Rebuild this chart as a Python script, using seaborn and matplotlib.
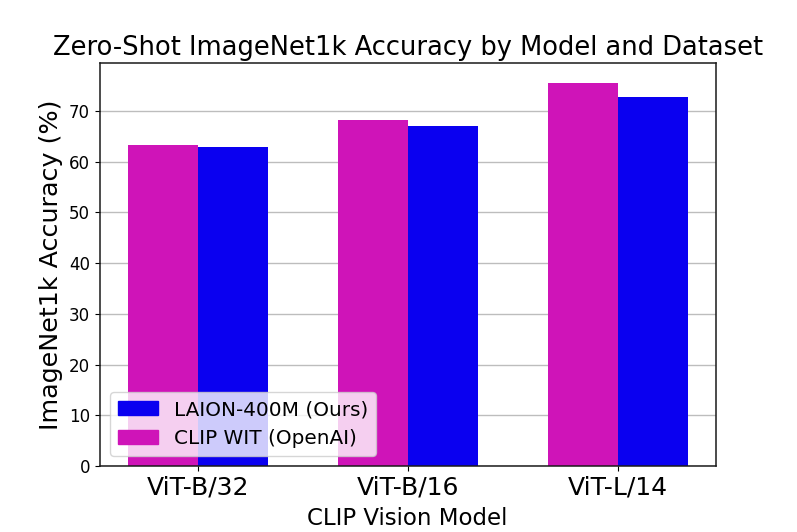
import numpy as np
import pandas as pd
import matplotlib
matplotlib.use("Agg")
import matplotlib.pyplot as plt
import seaborn as sns
from matplotlib.patches import Patch

# values
models = ["ViT-B/32", "ViT-B/16", "ViT-L/14"]
clip_wit = [63.3, 68.3, 75.5]
laion = [62.9, 67.0, 72.8]

CLIP_NAME = "CLIP WIT (OpenAI)"
LAION_NAME = "LAION-400M (Ours)"
palette = {CLIP_NAME: "#cf14b8", LAION_NAME: "#0a00f0"}

df = pd.DataFrame({
    "model": models * 2,
    "acc": clip_wit + laion,
    "dataset": [CLIP_NAME] * 3 + [LAION_NAME] * 3,
})

fig, ax = plt.subplots(figsize=(7.97, 5.32), dpi=100)
fig.subplots_adjust(left=0.125, right=0.898, top=0.881, bottom=0.124)

sns.barplot(data=df, x="model", y="acc", hue="dataset",
            hue_order=[CLIP_NAME, LAION_NAME], palette=palette,
            width=2/3, linewidth=0, saturation=1, ax=ax, legend=False)

ax.yaxis.grid(True, color="#bdbdbd", linewidth=1)
ax.set_axisbelow(True)
ax.set_xlim(-0.467, 2.467)
ax.set_ylim(0, 79.4)
for sp in ax.spines.values():
    sp.set_linewidth(1.1)
    sp.set_color("#1a1a1a")

ax.set_title("Zero-Shot ImageNet1k Accuracy by Model and Dataset", fontsize=18.5)
ax.set_ylabel("ImageNet1k Accuracy (%)", fontsize=18.3)
ax.set_xlabel("CLIP Vision Model", fontsize=16.5, labelpad=5)
ax.tick_params(axis="x", labelsize=18)
ax.tick_params(axis="y", labelsize=12)

handles = [Patch(color=palette[LAION_NAME]), Patch(color=palette[CLIP_NAME])]
ax.legend(handles, [LAION_NAME, CLIP_NAME], loc="lower left", fontsize=14.4)

fig.savefig("out.png", dpi=100)
